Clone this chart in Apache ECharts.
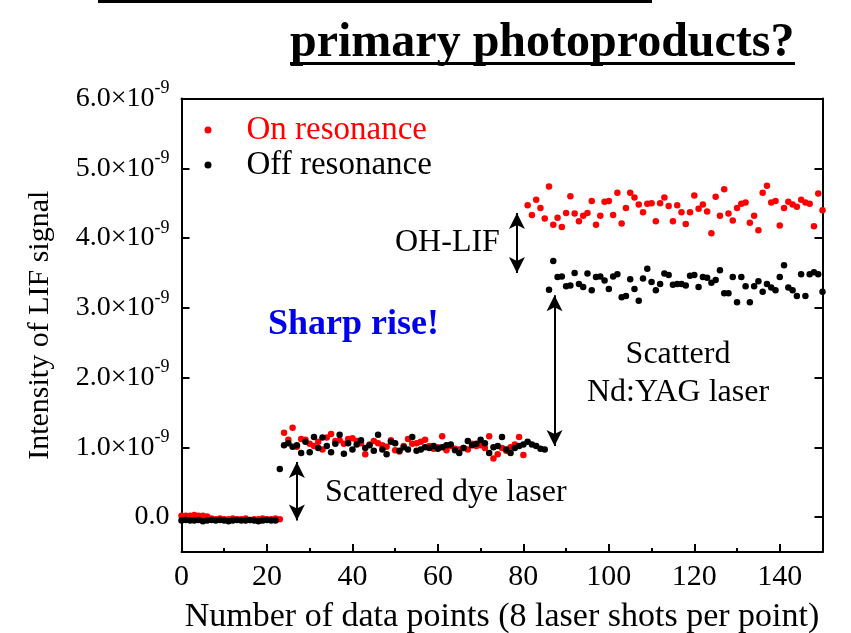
<!DOCTYPE html>
<html>
<head>
<meta charset="utf-8">
<title>primary photoproducts?</title>
<script src="https://cdn.jsdelivr.net/npm/echarts@6.0.0/dist/echarts.min.js"></script>
<style>
  html, body { margin: 0; padding: 0; background: #fff; }
  .chart { width: 851px; height: 633px; }
</style>
</head>
<body>
<div class="chart"></div>
<script>
// LIF 信号，单位 10^-9，下标即数据点编号 (0..150)
var onRes = [
  0.02, 0.02, 0.02, 0.03, 0.02, 0.02, 0.01, -0.02, -0.03, -0.02,
  -0.03, -0.03, -0.02, -0.03, -0.03, -0.02, -0.04, -0.03, -0.03, -0.02,
  -0.03, -0.03, -0.02, -0.03, 1.21, 1.11, 1.28, 1.01, 1.12, 1.11,
  1.05, 1.02, 1.08, 0.97, 1.14, 1.19, 1.09, 1.10, 1.05, 1.12,
  1.13, 1.09, 1.06, 0.90, 1.04, 1.09, 1.06, 1.03, 1.01, 1.10,
  0.96, 0.94, 1.02, 1.12, 1.05, 1.06, 1.08, 1.11, 1.02, 0.98,
  1.00, 1.16, 0.96, 1.02, 0.98, 0.97, 0.99, 0.97, 1.05, 1.02,
  1.03, 0.99, 1.16, 0.84, 0.90, 0.99, 0.95, 1.00, 1.04, 1.15,
  0.89, 4.47, 4.33, 4.55, 4.43, 4.28, 4.74, 4.19, 4.29, 4.16,
  4.36, 4.60, 4.35, 4.24, 4.32, 4.36, 4.53, 4.19, 4.32, 4.52,
  4.53, 4.33, 4.65, 4.21, 4.43, 4.65, 4.58, 4.48, 4.37, 4.49,
  4.50, 4.24, 4.50, 4.58, 4.46, 4.24, 4.47, 4.37, 4.20, 4.37,
  4.61, 4.42, 4.48, 4.38, 4.07, 4.59, 4.32, 4.70, 4.35, 4.25,
  4.43, 4.49, 4.51, 4.22, 4.32, 4.11, 4.65, 4.75, 4.51, 4.53,
  4.18, 4.43, 4.52, 4.48, 4.45, 4.55, 4.51, 4.49, 4.17, 4.64,
  4.40
];
var offRes = [
  -0.05, -0.04, -0.05, -0.05, -0.04, -0.06, -0.05, -0.04, -0.05, -0.04,
  -0.05, -0.06, -0.05, -0.04, -0.05, -0.05, -0.04, -0.05, -0.06, -0.05,
  -0.04, -0.05, -0.05, 0.69, 1.03, 1.06, 1.01, 1.03, 0.92, 1.08,
  0.93, 1.15, 0.99, 1.14, 1.02, 0.93, 1.05, 1.18, 0.91, 1.06,
  0.97, 1.04, 1.10, 0.99, 1.03, 0.95, 1.18, 0.97, 0.90, 1.08,
  1.06, 0.95, 1.00, 0.97, 1.15, 0.95, 0.97, 1.00, 0.99, 1.02,
  0.98, 1.00, 1.03, 1.04, 0.96, 0.92, 0.99, 1.09, 1.03, 1.05,
  1.11, 1.06, 0.92, 1.00, 1.02, 1.15, 0.97, 0.92, 0.99, 1.02,
  1.04, 1.08, 1.04, 1.02, 0.98, 0.97, 3.26, 3.67, 3.44, 3.45,
  3.31, 3.32, 3.50, 3.34, 3.30, 3.49, 3.25, 3.44, 3.45, 3.39,
  3.27, 3.45, 3.48, 3.15, 3.17, 3.41, 3.27, 3.10, 3.42, 3.56,
  3.37, 3.25, 3.34, 3.49, 3.47, 3.33, 3.34, 3.34, 3.32, 3.46,
  3.47, 3.30, 3.44, 3.43, 3.36, 3.40, 3.54, 3.21, 3.21, 3.44,
  3.08, 3.44, 3.31, 3.08, 3.31, 3.38, 3.23, 3.34, 3.29, 3.25,
  3.44, 3.61, 3.29, 3.25, 3.17, 3.48, 3.17, 3.48, 3.51, 3.48,
  3.23
];
var yTicks = [0, 1, 2, 3, 4, 5, 6];
var seriesNames = ['On resonance', 'Off resonance'];
// 双向箭头 [x, y起点, y终点]
var arrows = [
  [78.5, 4.36, 3.50],
  [87.3, 3.18, 1.02],
  [27.0, 0.79, -0.05]
];

var serif = '"Liberation Serif", "Times New Roman", serif';

function toPoints(arr) {
  return arr.map(function (v, i) { return [i, v]; });
}

var chart = echarts.init(document.querySelector('.chart'));

var option = {
  animation: false,
  backgroundColor: '#fff',
  textStyle: { fontFamily: serif, color: '#000' },
  grid: { left: 181.5, right: 28.5, top: 98.5, bottom: 81, outerBoundsMode: 'none' },
  legend: {
    orient: 'vertical',
    left: 199.5,
    top: 108.5,
    itemWidth: 7,
    itemHeight: 7,
    itemGap: 2,
    icon: 'circle',
    textStyle: { fontFamily: serif, fontSize: 33, lineHeight: 33, color: '#000', padding: [0, 0, 0, 30] },
    data: [
      { name: seriesNames[0], textStyle: { color: '#ff0000' } },
      { name: seriesNames[1], textStyle: { color: '#000' } }
    ]
  },
  xAxis: [{
    type: 'value',
    min: 0,
    max: 150,
    interval: 20,
    name: 'Number of data points (8 laser shots per point)',
    nameLocation: 'middle',
    nameGap: 48,
    nameTextStyle: { fontFamily: serif, fontSize: 34, color: '#000' },
    axisLine: { onZero: false, lineStyle: { color: '#000', width: 2 } },
    axisTick: { inside: true, length: 8, lineStyle: { color: '#000', width: 2 } },
    minorTick: { show: true, splitNumber: 2, length: 4, lineStyle: { color: '#000', width: 2 } },
    axisLabel: { fontFamily: serif, fontSize: 30, color: '#000', margin: 10, showMaxLabel: false },
    splitLine: { show: false }
  }, {
    type: 'value',
    position: 'top',
    min: 0,
    max: 150,
    interval: 20,
    axisLine: { show: true, onZero: false, lineStyle: { color: '#000', width: 2 } },
    axisTick: { show: false },
    axisLabel: { show: false },
    splitLine: { show: false }
  }],
  yAxis: [{
    type: 'value',
    min: -0.5,
    max: 6,
    interval: 0.5,
    name: 'Intensity of LIF signal',
    nameLocation: 'middle',
    nameGap: 126,
    nameTextStyle: { fontFamily: serif, fontSize: 30, color: '#000' },
    axisLine: { show: true, onZero: false, lineStyle: { color: '#000', width: 2 } },
    axisTick: { inside: true, length: 8, customValues: yTicks, lineStyle: { color: '#000', width: 2 } },
    axisLabel: {
      customValues: yTicks,
      margin: 12,
      formatter: function (v) {
        if (v === 0) return '{a|0.0}';
        return '{a|' + v.toFixed(1) + '\u00d710}{b|-9}';
      },
      rich: {
        a: { fontFamily: serif, fontSize: 28, lineHeight: 38, color: '#000' },
        b: { fontFamily: serif, fontSize: 18, lineHeight: 18, verticalAlign: 'top', color: '#000' }
      }
    },
    splitLine: { show: false }
  }, {
    type: 'value',
    position: 'right',
    min: -0.5,
    max: 6,
    interval: 0.5,
    axisLine: { show: true, onZero: false, lineStyle: { color: '#000', width: 2 } },
    axisTick: { inside: true, length: 8, customValues: yTicks, lineStyle: { color: '#000', width: 2 } },
    axisLabel: { show: false },
    splitLine: { show: false }
  }],
  series: [{
    name: seriesNames[0],
    type: 'scatter',
    symbol: 'circle',
    symbolSize: 6.5,
    itemStyle: { color: '#ff0000', opacity: 1 },
    data: toPoints(onRes)
  }, {
    name: seriesNames[1],
    type: 'scatter',
    symbol: 'circle',
    symbolSize: 6.5,
    itemStyle: { color: '#000', opacity: 1 },
    data: toPoints(offRes),
    markLine: {
      silent: true,
      symbol: ['arrow', 'arrow'],
      symbolSize: [12, 16],
      label: { show: false },
      lineStyle: { color: '#000', width: 2, type: 'solid' },
      data: arrows.map(function (a) {
        return [{ coord: [a[0], a[1]] }, { coord: [a[0], a[2]] }];
      })
    }
  }],
  graphic: [
    // 上一行标题的下划线残留
    { type: 'rect', shape: { x: 98, y: 0, width: 554, height: 3 }, style: { fill: '#000' } },
    {
      type: 'text', x: 290, y: 44,
      style: { text: 'primary photoproducts?', font: 'bold 48px ' + serif, fill: '#000', align: 'left', verticalAlign: 'middle' }
    },
    { type: 'rect', shape: { x: 290, y: 62, width: 505, height: 3 }, style: { fill: '#000' } },
    {
      type: 'text', x: 395, y: 243,
      style: { text: 'OH-LIF', font: '32px ' + serif, fill: '#000', align: 'left', verticalAlign: 'middle' }
    },
    {
      type: 'text', x: 268, y: 325,
      style: { text: 'Sharp rise!', font: 'bold 36px ' + serif, fill: '#0000ee', align: 'left', verticalAlign: 'middle' }
    },
    {
      type: 'text', x: 678, y: 355,
      style: { text: 'Scatterd', font: '32px ' + serif, fill: '#000', align: 'center', verticalAlign: 'middle' }
    },
    {
      type: 'text', x: 678, y: 393,
      style: { text: 'Nd:YAG laser', font: '32px ' + serif, fill: '#000', align: 'center', verticalAlign: 'middle' }
    },
    {
      type: 'text', x: 325, y: 493,
      style: { text: 'Scattered dye laser', font: '32px ' + serif, fill: '#000', align: 'left', verticalAlign: 'middle' }
    }
  ]
};

chart.setOption(option);
</script>
</body>
</html>
